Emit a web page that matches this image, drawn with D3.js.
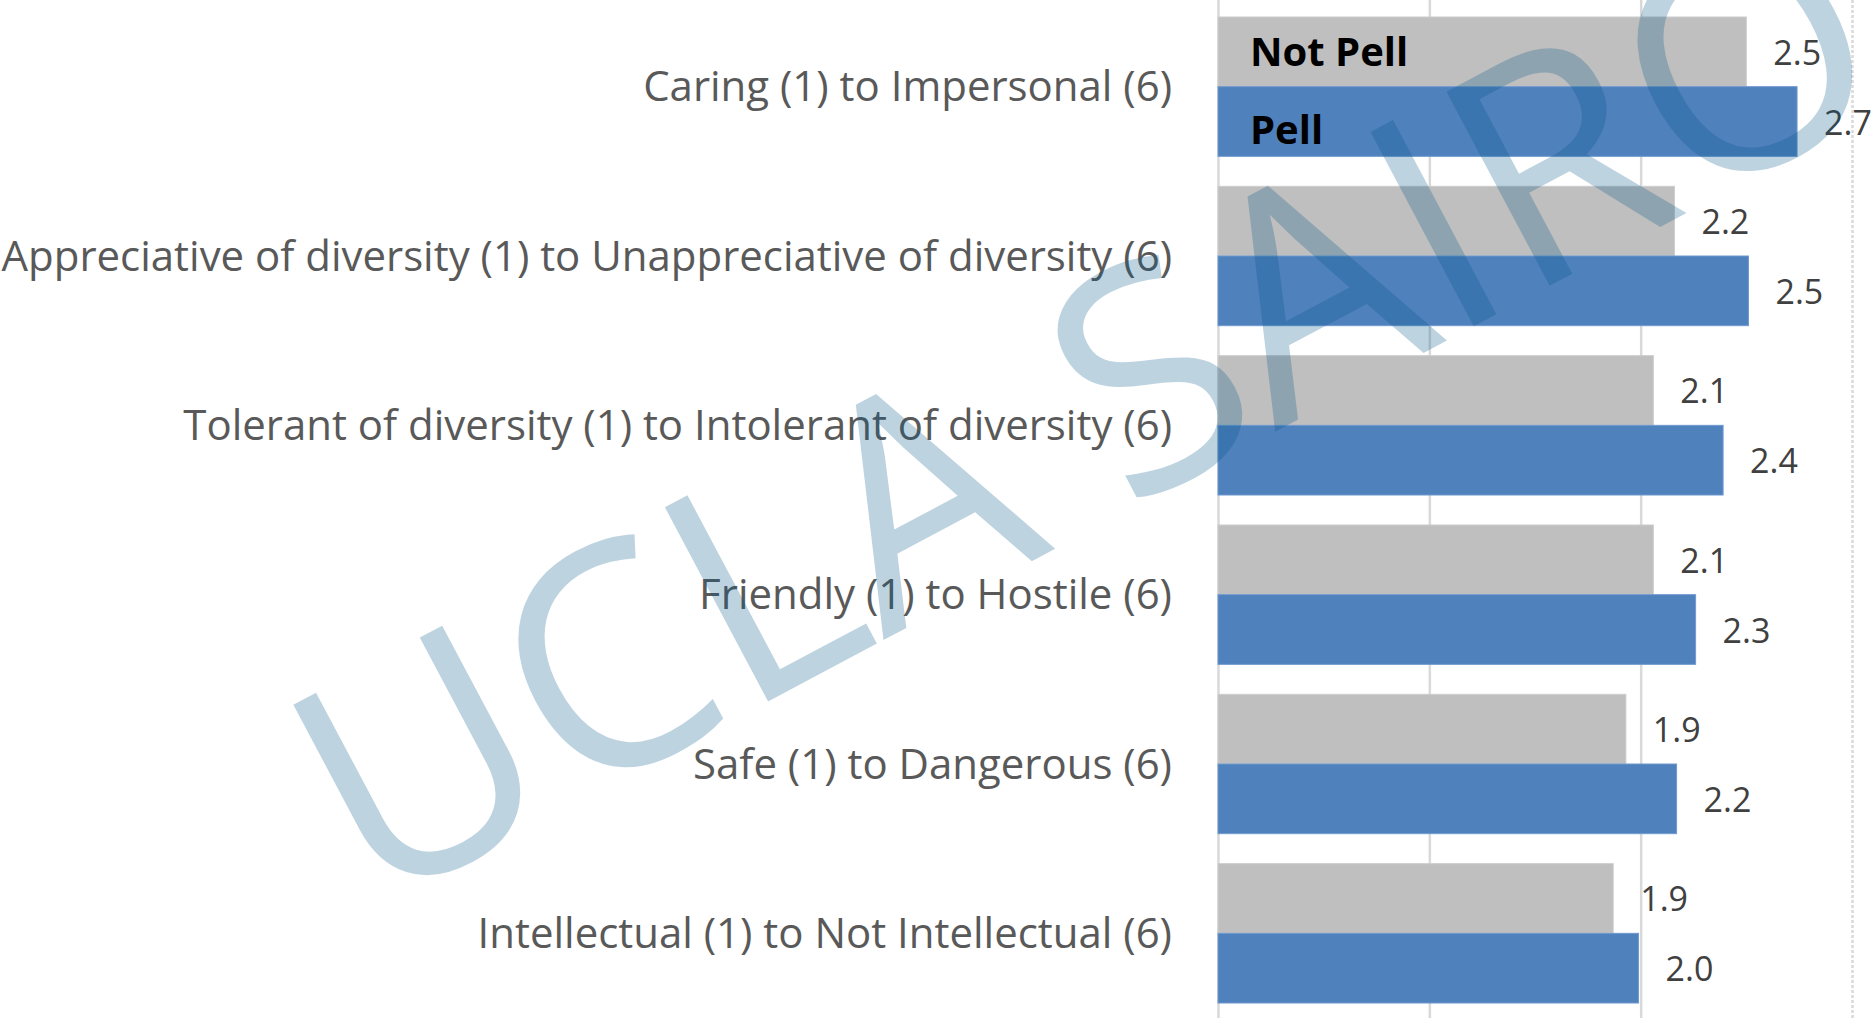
<!DOCTYPE html>
<html>
<head>
<meta charset="utf-8">
<script src="https://cdn.jsdelivr.net/npm/d3@7"></script>
<style>
  html, body { margin: 0; padding: 0; background: #fff; overflow: hidden; }
  svg { display: block; }
</style>
</head>
<body>
<svg id="chart" width="1873" height="1018"></svg>
<script>
// data
const categories = [
    "Caring (1) to Impersonal (6)",
    "Appreciative of diversity (1) to Unappreciative of diversity (6)",
    "Tolerant of diversity (1) to Intolerant of diversity (6)",
    "Friendly (1) to Hostile (6)",
    "Safe (1) to Dangerous (6)",
    "Intellectual (1) to Not Intellectual (6)"
];
const seriesNames = ["Not Pell", "Pell"];
const notPell = [2.50, 2.16, 2.06, 2.06, 1.93, 1.87];
const pell = [2.74, 2.51, 2.39, 2.26, 2.17, 1.99];
const xTicks = [0, 1, 2, 3];
const watermark = "UCLA SAIRO";

const svg = d3.select("#chart");
const width = +svg.attr("width");
const height = +svg.attr("height");

const plot = { left: 1218, right: 1852, top: 2, bottom: 1018 };
const colors = { "Not Pell": "#bfbfbf", "Pell": "#4f81bd" };

const x = d3.scaleLinear()
    .domain([0, 3])
    .range([plot.left, plot.right]);

const y = d3.scaleBand()
    .domain(categories)
    .range([plot.top, plot.bottom])
    .paddingInner(0.177)
    .paddingOuter(0.0885);

const ySub = d3.scaleBand()
    .domain(seriesNames)
    .range([0, y.bandwidth()]);

const rows = categories.map((c, i) => ({
    category: c,
    values: [
        { series: "Not Pell", value: notPell[i] },
        { series: "Pell", value: pell[i] }
    ]
}));

// gridlines
const grid = svg.append("g")
    .attr("class", "grid")
    .attr("transform", `translate(0,${height})`)
    .call(d3.axisBottom(x).tickValues(xTicks).tickSize(-height).tickFormat(""));
grid.select(".domain").remove();
grid.selectAll(".tick line")
    .attr("stroke", "#d9d9d9")
    .attr("stroke-width", 2.5)
    .attr("stroke-dasharray", d => d === 3 ? "3,2" : null);

// bars
const groups = svg.append("g")
    .selectAll("g.row")
    .data(rows)
    .join("g")
    .attr("class", "row")
    .attr("transform", d => `translate(0,${y(d.category)})`);

groups.selectAll("rect")
    .data(d => d.values)
    .join("rect")
    .attr("x", x(0))
    .attr("y", d => ySub(d.series))
    .attr("width", d => x(d.value) - x(0))
    .attr("height", ySub.bandwidth())
    .attr("fill", d => colors[d.series])
    .attr("stroke", d => d.series === "Pell" ? "#6f9ad0" : "#cdcdcd")
    .attr("stroke-width", 1);

// data labels
const fmt = d3.format(".1f");
groups.selectAll("text.value")
    .data(d => d.values)
    .join("text")
    .attr("class", "value")
    .attr("x", d => x(d.value) + 27)
    .attr("y", d => ySub(d.series) + ySub.bandwidth() / 2 + 13)
    .attr("font-family", "'Open Sans', sans-serif")
    .attr("font-size", 34)
    .attr("fill", "#404040")
    .text(d => fmt(d.value));

// category axis
const yAxis = svg.append("g")
    .attr("transform", `translate(${plot.left},0)`)
    .call(d3.axisLeft(y).tickSize(0).tickPadding(46));
yAxis.select(".domain").remove();
yAxis.selectAll(".tick text")
    .attr("font-family", "'Open Sans', sans-serif")
    .attr("font-size", 42)
    .attr("fill", "#595959")
    .attr("dy", "0.35em");

// fit the longest label into the space left of the axis
let widest = 0;
yAxis.selectAll(".tick text").each(function() {
    widest = Math.max(widest, this.getComputedTextLength());
});
const labelSize = 42 * (plot.left - 46 - 1) / widest;
yAxis.selectAll(".tick text").attr("font-size", labelSize);

// legend inside the plot
svg.append("g")
    .selectAll("text")
    .data(seriesNames)
    .join("text")
    .attr("x", plot.left + 32)
    .attr("y", (d, i) => i === 0 ? 66 : 144)
    .attr("font-family", "'Open Sans', sans-serif")
    .attr("font-weight", "bold")
    .attr("font-size", 40)
    .attr("fill", "#000")
    .text(d => d);

// watermark on top
svg.append("text")
    .attr("transform", "translate(372,912) rotate(-28)")
    .attr("font-family", "'Open Sans', sans-serif")
    .attr("font-weight", 400)
    .attr("font-size", 308)
    .attr("fill", "#005587")
    .attr("fill-opacity", 0.26)
    .text(watermark);
</script>
</body>
</html>
